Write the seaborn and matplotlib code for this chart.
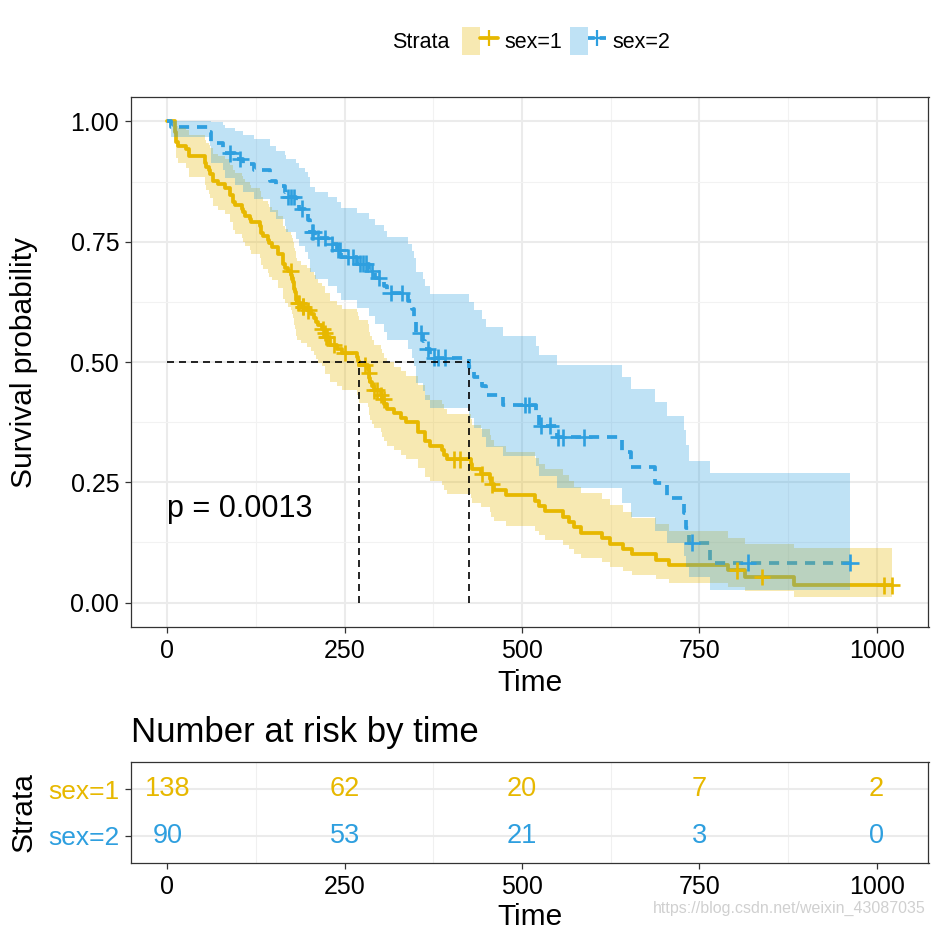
import numpy as np
import pandas as pd
import matplotlib
matplotlib.use("Agg")
import matplotlib.pyplot as plt
import seaborn as sns
from matplotlib.lines import Line2D
from matplotlib.patches import Patch
from matplotlib.legend_handler import HandlerTuple

sns.set_theme(style="white")
plt.rcParams["font.family"] = ["Liberation Sans", "DejaVu Sans"]
plt.rcParams["text.color"] = "black"
plt.rcParams["axes.labelcolor"] = "black"

# ---------------- data ----------------
strata = ["sex=1", "sex=2"]
colors = ["#E7B800", "#2E9FDF"]

m_time = [11, 12, 13, 15, 26, 30, 31, 53, 54, 59, 60, 65, 71, 81, 88, 92, 93, 95, 105, 107,
          110, 116, 118, 131, 132, 135, 142, 144, 147, 156, 163, 166, 170, 175, 176, 177, 179, 180, 181, 183,
          189, 197, 202, 207, 210, 212, 218, 222, 223, 229, 230, 239, 246, 267, 269, 270, 283, 284, 285, 286,
          288, 291, 301, 303, 306, 310, 320, 329, 337, 353, 363, 364, 371, 387, 390, 394, 428, 429, 442, 455,
          457, 460, 477, 519, 524, 533, 558, 567, 574, 583, 613, 624, 643, 655, 689, 707, 791, 814, 883]
m_surv = [0.9783, 0.9710, 0.9565, 0.9493, 0.9420, 0.9348, 0.9275, 0.9130, 0.9058, 0.8986,
          0.8913, 0.8768, 0.8696, 0.8623, 0.8478, 0.8406, 0.8333, 0.8261, 0.8188, 0.8116,
          0.8043, 0.7971, 0.7899, 0.7826, 0.7681, 0.7609, 0.7536, 0.7464, 0.7391, 0.7246,
          0.7029, 0.6957, 0.6884, 0.6811, 0.6738, 0.6664, 0.6518, 0.6445, 0.6298, 0.6225,
          0.6150, 0.6073, 0.5995, 0.5917, 0.5839, 0.5762, 0.5684, 0.5605, 0.5525, 0.5442,
          0.5360, 0.5276, 0.5192, 0.5107, 0.5022, 0.4937, 0.4850, 0.4764, 0.4676, 0.4587,
          0.4499, 0.4411, 0.4319, 0.4225, 0.4129, 0.4033, 0.3937, 0.3841, 0.3745, 0.3553,
          0.3457, 0.3361, 0.3265, 0.3169, 0.3073, 0.2977, 0.2874, 0.2771, 0.2669, 0.2562,
          0.2455, 0.2344, 0.2232, 0.2121, 0.2009, 0.1897, 0.1786, 0.1674, 0.1562, 0.1451,
          0.1339, 0.1228, 0.1116, 0.1004, 0.0893, 0.0781, 0.0670, 0.0536, 0.0357]
m_lower = [0.9542, 0.9434, 0.9231, 0.9134, 0.9038, 0.8945, 0.8853, 0.8672, 0.8583, 0.8496,
           0.8409, 0.8237, 0.8152, 0.8067, 0.7900, 0.7817, 0.7734, 0.7652, 0.7570, 0.7489,
           0.7408, 0.7328, 0.7247, 0.7167, 0.7008, 0.6929, 0.6851, 0.6772, 0.6694, 0.6538,
           0.6306, 0.6230, 0.6153, 0.6076, 0.5999, 0.5923, 0.5769, 0.5693, 0.5541, 0.5466,
           0.5388, 0.5309, 0.5228, 0.5148, 0.5068, 0.4988, 0.4909, 0.4829, 0.4747, 0.4663,
           0.4579, 0.4494, 0.4409, 0.4323, 0.4238, 0.4152, 0.4065, 0.3978, 0.3889, 0.3801,
           0.3715, 0.3628, 0.3538, 0.3444, 0.3349, 0.3255, 0.3162, 0.3070, 0.2978, 0.2795,
           0.2705, 0.2614, 0.2525, 0.2436, 0.2349, 0.2261, 0.2167, 0.2073, 0.1981, 0.1884,
           0.1789, 0.1689, 0.1590, 0.1493, 0.1395, 0.1299, 0.1204, 0.1110, 0.1017, 0.0926,
           0.0835, 0.0746, 0.0659, 0.0574, 0.0490, 0.0410, 0.0333, 0.0241, 0.0127]
m_upper = [1.000, 0.999, 0.991, 0.987, 0.982, 0.977, 0.972, 0.961, 0.956, 0.950,
           0.945, 0.933, 0.928, 0.922, 0.910, 0.904, 0.898, 0.892, 0.886, 0.880,
           0.873, 0.867, 0.861, 0.855, 0.842, 0.835, 0.829, 0.823, 0.816, 0.803,
           0.783, 0.777, 0.770, 0.763, 0.757, 0.750, 0.736, 0.730, 0.716, 0.709,
           0.702, 0.695, 0.687, 0.680, 0.673, 0.665, 0.658, 0.651, 0.643, 0.635,
           0.627, 0.619, 0.611, 0.603, 0.595, 0.587, 0.579, 0.570, 0.562, 0.554,
           0.545, 0.536, 0.527, 0.518, 0.509, 0.500, 0.490, 0.481, 0.471, 0.452,
           0.442, 0.432, 0.422, 0.412, 0.402, 0.392, 0.381, 0.370, 0.360, 0.348,
           0.337, 0.325, 0.313, 0.301, 0.289, 0.277, 0.265, 0.252, 0.240, 0.227,
           0.215, 0.202, 0.189, 0.176, 0.163, 0.149, 0.135, 0.122, 0.113]
m_censor = [174, 185, 186, 191, 192, 199, 219, 222, 224, 225, 235, 250, 279, 284, 292, 296,
            301, 305, 404, 413, 444, 458, 803, 838, 1010, 1022]
m_end = 1022

f_time = [5, 60, 61, 62, 79, 81, 95, 107, 122, 145, 153, 166, 167, 182, 186, 194, 199, 201, 208, 226,
          239, 245, 268, 285, 293, 305, 310, 340, 345, 348, 350, 351, 361, 363, 371, 426, 433, 444, 450, 473,
          520, 524, 550, 641, 654, 687, 705, 728, 731, 735, 765]
f_surv = [0.9889, 0.9778, 0.9667, 0.9556, 0.9444, 0.9333, 0.9221, 0.9107, 0.8993, 0.8766,
          0.8652, 0.8538, 0.8424, 0.8305, 0.8187, 0.8066, 0.7946, 0.7705, 0.7581, 0.7452,
          0.7322, 0.7186, 0.7045, 0.6895, 0.6742, 0.6585, 0.6428, 0.6264, 0.6099, 0.5934,
          0.5769, 0.5604, 0.5434, 0.5265, 0.5089, 0.4893, 0.4698, 0.4502, 0.4306, 0.4110,
          0.3894, 0.3678, 0.3433, 0.3121, 0.2808, 0.2496, 0.2184, 0.1872, 0.1560, 0.1248,
          0.0832]
f_lower = [0.9675, 0.9478, 0.9303, 0.9139, 0.8983, 0.8832, 0.8683, 0.8535, 0.8390, 0.8108,
           0.7970, 0.7834, 0.7699, 0.7559, 0.7420, 0.7280, 0.7142, 0.6869, 0.6729, 0.6584,
           0.6438, 0.6287, 0.6129, 0.5962, 0.5791, 0.5618, 0.5447, 0.5267, 0.5089, 0.4913,
           0.4739, 0.4566, 0.4390, 0.4215, 0.4035, 0.3832, 0.3632, 0.3435, 0.3241, 0.3050,
           0.2837, 0.2628, 0.2390, 0.2076, 0.1778, 0.1496, 0.1229, 0.0978, 0.0743, 0.0527,
           0.0257]
f_upper = [1.000, 1.000, 1.000, 0.999, 0.993, 0.986, 0.979, 0.972, 0.964, 0.948,
           0.939, 0.931, 0.922, 0.913, 0.903, 0.894, 0.884, 0.864, 0.854, 0.843,
           0.833, 0.821, 0.810, 0.798, 0.785, 0.772, 0.759, 0.745, 0.731, 0.717,
           0.702, 0.688, 0.673, 0.658, 0.642, 0.625, 0.608, 0.590, 0.572, 0.554,
           0.534, 0.515, 0.493, 0.469, 0.443, 0.417, 0.388, 0.359, 0.328, 0.295,
           0.270]
f_censor = [89, 103, 170, 174, 178, 190, 204, 206, 213, 222, 232, 241, 243, 255, 262, 272, 276,
            280, 289, 298, 315, 331, 357, 367, 376, 382, 392, 505, 510, 527, 540, 551, 558, 587,
            740, 819, 963]
f_end = 963

medians = [270, 426]
pval_text = "p = 0.0013"

risk_times = [0, 250, 500, 750, 1000]
risk_m = [138, 62, 20, 7, 2]
risk_f = [90, 53, 21, 3, 0]

# ---------------- build tables ----------------
groups = [
    (strata[0], m_time, m_surv, m_lower, m_upper, m_censor, m_end),
    (strata[1], f_time, f_surv, f_lower, f_upper, f_censor, f_end),
]
curve_rows, cens_rows, bands = [], [], {}
for name, t, s, lo, up, cens, end in groups:
    tt = np.array([0] + list(t) + [end], float)
    ss = np.array([1.0] + list(s) + [s[-1]])
    ll = np.array([1.0] + list(lo) + [lo[-1]])
    uu = np.array([1.0] + list(up) + [up[-1]])
    bands[name] = (tt, ll, uu)
    curve_rows.append(pd.DataFrame({"time": tt, "surv": ss, "strata": name}))
    idx = np.searchsorted(tt, np.array(cens, float), side="right") - 1
    cens_rows.append(pd.DataFrame({"time": cens, "surv": ss[idx], "strata": name}))
curve_df = pd.concat(curve_rows, ignore_index=True)
cens_df = pd.concat(cens_rows, ignore_index=True)
pal = dict(zip(strata, colors))

# ---------------- figure ----------------
W, H = 933, 932
fig = plt.figure(figsize=(W / 100, H / 100), dpi=100)
fig.patch.set_facecolor("white")


def px_axes(l, t, r, b):
    return fig.add_axes([l / W, 1 - b / H, (r - l) / W, (b - t) / H])


ax = px_axes(131, 97.3, 928.5, 626.7)
axr = px_axes(131, 761.7, 928.5, 863.3)

LW = 2.7
sns.lineplot(data=curve_df, x="time", y="surv", hue="strata", style="strata",
             palette=pal, dashes={"sex=1": "", "sex=2": (2.7, 2.1)},
             drawstyle="steps-post", estimator=None, lw=LW, legend=False,
             ax=ax, zorder=2)
for name in strata:
    tt, ll, uu = bands[name]
    ax.fill_between(tt, ll, uu, step="post", color=pal[name], alpha=0.3,
                    lw=0, zorder=3)
sns.scatterplot(data=cens_df, x="time", y="surv", hue="strata", palette=pal,
                marker="+", s=140, linewidth=1.9, legend=False, ax=ax, zorder=4)

# median lines
ax.plot([0, max(medians)], [0.5, 0.5], color="black", lw=1.2,
        ls=(0, (4.2, 3.0)), zorder=5)
for m in medians:
    ax.plot([m, m], [0, 0.5], color="black", lw=1.2, ls=(0, (4.2, 3.0)), zorder=5)

ax.text(0, 0.195, pval_text, fontsize=22, ha="left", va="center", zorder=6)


def style_axes(a):
    a.set_facecolor("white")
    for sp in a.spines.values():
        sp.set_visible(True)
        sp.set_color("#333333")
        sp.set_linewidth(0.9)
    a.tick_params(which="major", direction="out", length=4.5, width=0.9,
                  color="#333333", labelsize=18, labelcolor="black", pad=4,
                  bottom=True, left=True)
    a.tick_params(which="minor", length=0, bottom=False, left=False)
    a.set_axisbelow(True)


xlim = (-51.1, 1073.1)
ax.set_xlim(*xlim)
ax.set_ylim(-0.05, 1.05)
ax.set_xticks([0, 250, 500, 750, 1000])
ax.set_xticks([125, 375, 625, 875], minor=True)
ax.set_yticks([0, 0.25, 0.5, 0.75, 1.0])
ax.set_yticklabels(["0.00", "0.25", "0.50", "0.75", "1.00"])
ax.set_yticks([0.125, 0.375, 0.625, 0.875], minor=True)
style_axes(ax)
ax.grid(which="major", color="#EBEBEB", lw=1.5)
ax.grid(which="minor", color="#F2F2F2", lw=0.8)
ax.set_xlabel("Time", fontsize=21.5, va="center")
ax.xaxis.set_label_coords(0.5, (626.7 - 683) / 529.4)
ax.set_ylabel("Survival probability", fontsize=21.5, va="center")
ax.yaxis.set_label_coords((24 - 131) / 797.5, 0.5)

# ---------------- risk table ----------------
rows = {"sex=1": 2, "sex=2": 1}
axr.set_xlim(*xlim)
axr.set_ylim(0.4, 2.6)
for name, counts in zip(strata, [risk_m, risk_f]):
    for t, n in zip(risk_times, counts):
        axr.text(t, rows[name], str(n), color=pal[name], fontsize=19.5,
                 ha="center", va="center")
axr.set_xticks(risk_times)
axr.set_xticks([125, 375, 625, 875], minor=True)
axr.set_yticks([rows[s] for s in strata])
axr.set_yticklabels(strata)
style_axes(axr)
axr.tick_params(axis="y", labelsize=19)
for lab, name in zip(axr.get_yticklabels(), strata):
    lab.set_color(pal[name])
axr.grid(which="major", axis="y", color="#EBEBEB", lw=1.5)
axr.grid(which="minor", axis="x", color="#F0F0F0", lw=0.8)
axr.set_xlabel("Time", fontsize=21.5, va="center")
axr.xaxis.set_label_coords(0.5, (863.3 - 916.7) / 101.6)
axr.set_ylabel("Strata", fontsize=21.5, va="center")
axr.yaxis.set_label_coords((24 - 131) / 797.5, 0.5)

fig.text(131 / W, 1 - 741.7 / H, "Number at risk by time", fontsize=25,
         ha="left", va="baseline", color="black")

# ---------------- legend ----------------
handles = []
for name in strata:
    patch = Patch(facecolor=pal[name], alpha=0.3, lw=0)
    line = Line2D([], [], color=pal[name], lw=LW,
                  ls="-" if name == "sex=1" else (0, (1.8, 1.3)),
                  marker="+", ms=11, mew=1.6)
    handles.append((patch, line))
fig.text(392 / W, 1 - 43 / H, "Strata", fontsize=15.5, ha="left", va="center",
         color="black")
leg = fig.legend(handles=handles, labels=strata,
                 handler_map={tuple: HandlerTuple(ndivide=None, pad=0)},
                 loc="center left", bbox_to_anchor=(462 / W, 1 - 41 / H), ncol=2,
                 frameon=False, fontsize=15.5, handlelength=1.65, handleheight=1.6,
                 handletextpad=0.3, columnspacing=0.4, borderpad=0, borderaxespad=0)
for txt in leg.get_texts():
    txt.set_color("black")

fig.text(926 / W, 1 - 908 / H, "https://blog.csdn.net/weixin_43087035",
         fontsize=11.5, color="#d0d0d0", ha="right", va="center")

fig.savefig("out.png", dpi=100, facecolor="white")
